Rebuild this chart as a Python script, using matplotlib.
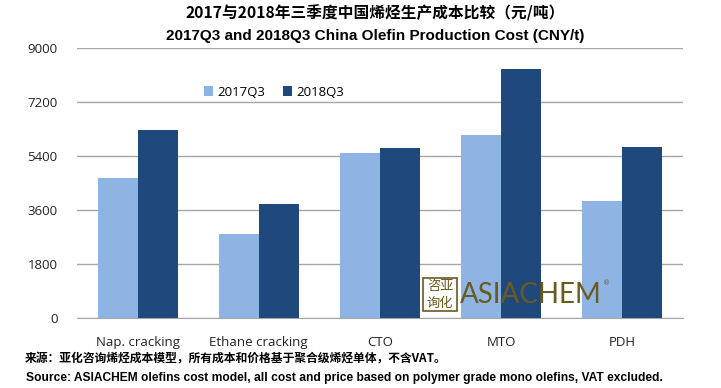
import numpy as np
import matplotlib
matplotlib.use("Agg")
import matplotlib.pyplot as plt
from matplotlib.patches import Rectangle

# data
categories = ["Nap. cracking", "Ethane cracking", "CTO", "MTO", "PDH"]
cost_2017q3 = [4650, 2800, 5500, 6100, 3900]
cost_2018q3 = [6250, 3800, 5650, 8300, 5700]
series_names = ["2017Q3", "2018Q3"]
yticks = [0, 1800, 3600, 5400, 7200, 9000]

title_cn = "2017与2018年三季度中国烯烃生产成本比较（元/吨）"
title_en = "2017Q3 and 2018Q3 China Olefin Production Cost (CNY/t)"
note_cn = "来源：亚化咨询烯烃成本模型，所有成本和价格基于聚合级烯烃单体，不含VAT。"
note_en = "Source: ASIACHEM olefins cost model, all cost and price based on polymer grade mono olefins, VAT excluded."

light = "#8EB4E3"
dark = "#1F497D"
grid_col = "#A6A6A6"
logo_col = "#6B5A1E"

cjk = ["Noto Sans CJK SC", "DejaVu Sans"]
arial = ["Liberation Sans", "DejaVu Sans"]
body = ["Open Sans", "DejaVu Sans"]

fig = plt.figure(figsize=(7.21, 3.88), dpi=100)
ax = fig.add_axes([0.1068, 0.1804, 0.8402, 0.6966])

x = np.arange(len(categories))
w = 0.33
ax.bar(x - w / 2, cost_2017q3, w, color=light, label=series_names[0], zorder=3)
ax.bar(x + w / 2, cost_2018q3, w, color=dark, label=series_names[1], zorder=3)

ax.set_xlim(-0.5, len(categories) - 0.5)
ax.set_ylim(0, 9000)
ax.set_yticks(yticks)
ax.set_yticklabels([str(v) for v in yticks], fontfamily=body, fontsize=9.5, color="#222222")
ax.set_xticks(x)
ax.set_xticklabels(categories, fontfamily=body, fontsize=9.5, color="#222222")
ax.tick_params(axis="both", length=0)
ax.tick_params(axis="y", pad=14)
ax.tick_params(axis="x", pad=13)
ax.yaxis.grid(True, color=grid_col, linewidth=1.0, zorder=0)
for s in ["top", "right", "left"]:
    ax.spines[s].set_visible(False)
ax.spines["bottom"].set_color(grid_col)

leg = ax.legend(loc="center", bbox_to_anchor=(0.325, 0.836), ncol=2, frameon=False,
                prop={"family": body, "size": 9.5}, handlelength=0.7, handleheight=0.7,
                handletextpad=0.3, columnspacing=1.4)

# titles
fig.text(0.52, 0.966, title_cn, ha="center", va="center", fontfamily=cjk,
         fontweight="bold", fontsize=11.3)
fig.text(0.52, 0.908, title_en, ha="center", va="center", fontfamily=arial,
         fontweight="bold", fontsize=11)

# watermark logo
fig.patches.append(Rectangle((0.587, 0.198), 0.047, 0.085, transform=fig.transFigure,
                             fill=False, edgecolor=logo_col, linewidth=1.2, zorder=5))
fig.text(0.6105, 0.261, "咨亚", ha="center", va="center", fontfamily=cjk,
         fontsize=9.5, color=logo_col, zorder=6)
fig.text(0.6105, 0.219, "询化", ha="center", va="center", fontfamily=cjk,
         fontsize=9.5, color=logo_col, zorder=6)
fig.text(0.638, 0.24, "ASIACHEM", ha="left", va="center", fontfamily=["Lato", "DejaVu Sans"],
         fontsize=20, color=logo_col, zorder=6)
fig.text(0.836, 0.27, "®", ha="left", va="center", fontsize=5, color=logo_col, zorder=6)

# footnotes
fig.text(0.034, 0.074, note_cn, ha="left", va="center", fontfamily=cjk,
         fontweight="bold", fontsize=8.5)
fig.text(0.036, 0.026, note_en, ha="left", va="center", fontfamily=arial,
         fontweight="bold", fontsize=8.65)

fig.savefig("out.png", dpi=100, facecolor="white")
